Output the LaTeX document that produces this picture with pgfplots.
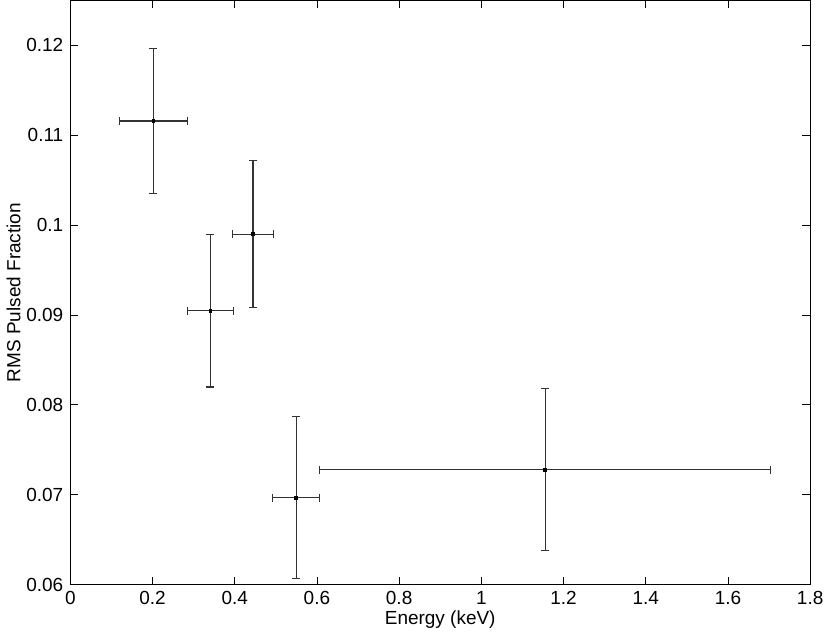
\documentclass[border=0pt]{standalone}
\usepackage{pgfplots}
\pgfplotsset{compat=1.18}
\usepackage{fontspec}
\setmainfont{Liberation Sans}
\begin{document}
\begin{tikzpicture}
\begin{axis}[
  scale only axis,
  width=370.5pt, height=292.5pt,
  xmin=0, xmax=1.8, ymin=0.06, ymax=0.125,
  xtick={0,0.2,...,1.8},
  ytick={0.06,0.07,...,0.121},
  yticklabel style={/pgf/number format/fixed, /pgf/number format/precision=2},
  xticklabel style={/pgf/number format/fixed},
  /pgf/number format/assume math mode=true,
  tick align=inside, tick pos=both,
  major tick length=4pt,
  font=\fontsize{9.5}{11}\selectfont,
  xlabel={Energy (keV)}, ylabel={RMS Pulsed Fraction},
  xlabel style={yshift=4pt}, ylabel style={yshift=-4pt},
  axis line style={black, line width=0.5pt},
  every tick/.style={black, line width=0.4pt},
  scaled y ticks=false,
]
\addplot[only marks, mark=square*, mark size=0.7pt, black,
  error bars/.cd, x dir=both, x explicit, y dir=both, y explicit,
  error bar style={line width=0.6pt, black!80},
  error mark options={rotate=90, mark size=2pt, line width=0.6pt, black!80}]
  coordinates {
  (0.2024,0.11160) +- (0.0834,0.0081)
  (0.3409,0.09048) +- (0.0556,0.0085)
  (0.4445,0.09900) +- (0.0490,0.0082)
  (0.5497,0.06967) +- (0.0570,0.0090)
  (1.1556,0.07278) +- (0.5485,0.0090)
  };
\end{axis}
\end{tikzpicture}
\end{document}
